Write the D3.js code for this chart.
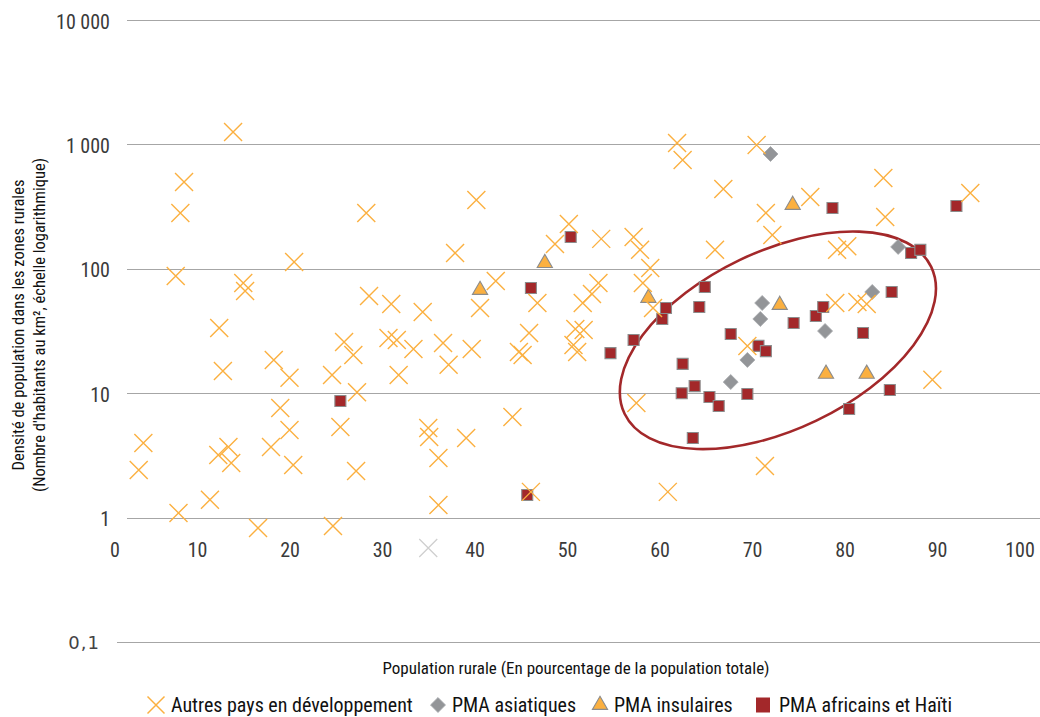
<!DOCTYPE html>
<html lang="fr">
<head>
<meta charset="utf-8">
<script src="https://cdn.jsdelivr.net/npm/d3@7/dist/d3.min.js"></script>
<style>
  html, body { margin: 0; padding: 0; background: #fff; }
  svg { display: block; }
  .cond { font-family: "Liberation Sans Narrow", "Arial Narrow", "Roboto Condensed", "DejaVu Sans Condensed", sans-serif; }
</style>
</head>
<body>
<svg id="chart" width="1040" height="717"></svg>
<script>
// Axis ticks
const xTicks = [0, 10, 20, 30, 40, 50, 60, 70, 80, 90, 100];
const yTicks = [0.1, 1, 10, 100, 1000, 10000];

// Series: [rural population (% of total), rural density (inhabitants per km²)]
const autresPays = [
  [3.7, 2.41], [4.2, 3.98], [8.0, 1.09], [7.7, 87.5], [8.2, 281], [8.6, 499],
  [11.4, 1.39], [12.3, 3.19], [12.4, 33.4], [12.8, 15.1], [13.4, 3.69], [13.7, 2.75],
  [13.9, 1258], [15.0, 76.9], [15.2, 66.3], [16.6, 0.825], [18.3, 18.5], [19.0, 7.6],
  [20.0, 13.3], [20.0, 5.06], [18.0, 3.69], [20.4, 2.65], [20.5, 113.5], [24.6, 14.0],
  [24.7, 0.856], [25.5, 5.35], [25.9, 25.8], [26.9, 20.3], [27.3, 10.2], [27.2, 2.37],
  [28.3, 281], [28.6, 60.4], [30.7, 27.8], [31.6, 26.8], [31.0, 52.1], [31.8, 14.0],
  [33.4, 22.7], [34.4, 44.9], [35.0, 5.25], [35.1, 4.44], [36.1, 3.01], [36.1, 1.26],
  [36.6, 25.3], [37.2, 16.9], [37.9, 134], [39.1, 4.36], [39.7, 22.7], [40.2, 357],
  [40.6, 48.4], [42.3, 79.8], [44.1, 6.44], [44.8, 21.4], [45.2, 20.3], [45.9, 30.5],
  [46.8, 53.1], [46.1, 1.61], [48.7, 158], [50.2, 229], [50.7, 24.4], [51.1, 21.4],
  [50.9, 32.8], [51.8, 32.2], [51.7, 53.1], [52.7, 62.7], [53.4, 76.9], [53.7, 174],
  [57.2, 180], [57.9, 142], [59.0, 101.5], [58.2, 76.9], [59.3, 48.4], [57.5, 8.34],
  [60.9, 1.61], [61.9, 1026], [62.5, 749], [66.9, 438], [66.0, 142], [70.5, 989],
  [71.5, 281], [72.2, 187], [76.3, 378], [84.2, 537], [84.4, 261], [93.6, 407],
  [79.2, 142], [80.3, 152], [79.0, 53.1], [81.4, 54.1], [82.4, 52.1], [89.5, 12.8],
  [69.5, 24.0], [71.4, 2.6]
];
const pmaAsiatiques = [
  [72.0, 837], [85.8, 150], [83.0, 65.1], [71.1, 53.1], [70.9, 39.5], [77.9, 31.6],
  [69.5, 18.5], [67.7, 12.3]
];
const pmaInsulaires = [
  [40.6, 67.5], [47.6, 111], [58.8, 58.3], [74.4, 326], [73.0, 51.2], [78.0, 14.3], [82.4, 14.3]
];
const pmaAfricains = [
  [25.5, 8.66], [45.7, 1.52], [46.1, 70.1], [50.4, 180], [54.7, 21.0], [57.2, 26.8],
  [60.7, 48.4], [60.3, 39.5], [62.5, 17.2], [62.4, 10.0], [63.8, 11.4], [63.6, 4.36],
  [64.3, 49.3], [64.9, 71.4], [65.4, 9.32], [66.4, 7.89], [67.7, 29.9], [69.5, 9.85],
  [70.7, 24.0], [71.5, 21.8], [74.5, 36.7], [76.9, 41.7], [77.7, 49.3], [78.7, 308],
  [80.5, 7.46], [82.0, 30.5], [84.9, 10.6], [85.1, 65.1], [87.2, 134], [88.2, 142],
  [92.1, 320]
];
// Faint stray cross sitting on the x-axis label row
const strayMarks = [[35.0, 0.57]];

// Highlighted cluster centre, in data units
const clusterCentre = [72.8, 26.6];

const legendItems = [
  { label: "Autres pays en développement", shape: "x" },
  { label: "PMA asiatiques", shape: "diamond" },
  { label: "PMA insulaires", shape: "triangle" },
  { label: "PMA africains et Haïti", shape: "square" }
];

const COL = {
  orange: "#FBB040",
  grey: "#939598",
  greyEdge: "#A7A9AC",
  red: "#A3282A",
  grid: "#A6A6A6",
  text: "#3a3a3a"
};

const svg = d3.select("#chart");
svg.append("rect").attr("width", 1040).attr("height", 717).attr("fill", "#fff");

const x = d3.scaleLinear().domain([0, 100]).range([104.5, 1029.5]);
const y = d3.scaleLog().domain([0.1, 10000]).range([642, 20]);

const fr = d3.formatLocale({ decimal: ",", thousands: " ", grouping: [3], currency: ["", ""] });
const fmtInt = fr.format(",");
const fmtDec = fr.format(",.1f");

// Gridlines
svg.append("g").selectAll("line").data(yTicks).join("line")
  .attr("x1", d => d === 0.1 ? 117 : 127)
  .attr("x2", 1040)
  .attr("y1", d => Math.round(y(d)) + 0.5)
  .attr("y2", d => Math.round(y(d)) + 0.5)
  .attr("stroke", COL.grid)
  .attr("stroke-width", 1.2);

// Y axis labels
const yAxis = svg.append("g")
  .attr("transform", "translate(110,0)")
  .call(d3.axisLeft(y).tickValues(yTicks.filter(d => d >= 1)).tickFormat(fmtInt).tickSize(0).tickPadding(0));
yAxis.select(".domain").remove();
yAxis.selectAll("text")
  .attr("class", "cond")
  .attr("font-size", 20)
  .attr("fill", COL.text)
  .attr("dy", "0.4em");

// The 0,1 label is set in a different face
const yAxisLow = svg.append("g")
  .attr("transform", "translate(100,0)")
  .call(d3.axisLeft(y).tickValues(yTicks.filter(d => d < 1)).tickFormat(fmtDec).tickSize(0).tickPadding(0));
yAxisLow.select(".domain").remove();
yAxisLow.selectAll("text")
  .attr("font-family", "'DejaVu Sans', Verdana, sans-serif")
  .attr("font-size", 18)
  .attr("letter-spacing", 1)
  .attr("fill", "#444")
  .attr("dy", "0.38em");

// X axis labels
const xAxis = svg.append("g")
  .attr("transform", "translate(0,543)")
  .call(d3.axisBottom(x).tickValues(xTicks).tickFormat(fmtInt).tickSize(0).tickPadding(0));
xAxis.select(".domain").remove();
xAxis.selectAll("text")
  .attr("class", "cond")
  .attr("font-size", 20)
  .attr("fill", COL.text)
  .attr("dx", d => d === 0 ? 10 : d === 100 ? -10 : 0);

// Marker paths
function crossPath(r) {
  return `M${-r},${-r}L${r},${r}M${-r},${r}L${r},${-r}`;
}
const symDiamond = d3.symbol().type(d3.symbolSquare).size(112)();
const symTriangle = d3.symbol().type(d3.symbolTriangle).size(100)();
const symSquare = d3.symbol().type(d3.symbolSquare).size(121)();

// Cluster ellipse
const [ecx, ecy] = [x(clusterCentre[0]), y(clusterCentre[1])];
svg.append("ellipse")
  .attr("transform", `translate(${ecx},${ecy}) rotate(-25.6)`)
  .attr("rx", 170).attr("ry", 89)
  .attr("fill", "none")
  .attr("stroke", COL.red)
  .attr("stroke-width", 2.6);

const plot = svg.append("g");

plot.append("g").selectAll("path").data(pmaAsiatiques).join("path")
  .attr("transform", d => `translate(${x(d[0])},${y(d[1])}) rotate(45)`)
  .attr("d", symDiamond)
  .attr("fill", COL.grey)
  .attr("stroke", COL.greyEdge)
  .attr("stroke-width", 0.8);

plot.append("g").selectAll("path").data(pmaInsulaires).join("path")
  .attr("transform", d => `translate(${x(d[0])},${y(d[1])})`)
  .attr("d", symTriangle)
  .attr("fill", COL.orange)
  .attr("stroke", "#8C8C8C")
  .attr("stroke-width", 1.1);

plot.append("g").selectAll("path").data(pmaAfricains).join("path")
  .attr("transform", d => `translate(${x(d[0])},${y(d[1])})`)
  .attr("d", symSquare)
  .attr("fill", COL.red)
  .attr("stroke", "#8C8C8C")
  .attr("stroke-width", 1.1);

plot.append("g").selectAll("path").data(autresPays).join("path")
  .attr("transform", d => `translate(${x(d[0])},${y(d[1])})`)
  .attr("d", crossPath(9))
  .attr("fill", "none")
  .attr("stroke", COL.orange)
  .attr("stroke-width", 1.4);

plot.append("g").selectAll("path").data(strayMarks).join("path")
  .attr("transform", d => `translate(${x(d[0])},${y(d[1])})`)
  .attr("d", crossPath(9))
  .attr("fill", "none")
  .attr("stroke", "#CFCFCF")
  .attr("stroke-width", 1.3);

// Axis titles
svg.append("text")
  .attr("class", "cond")
  .attr("x", 576).attr("y", 674)
  .attr("text-anchor", "middle")
  .attr("font-size", 17)
  .attr("fill", "#111")
  .text("Population rurale (En pourcentage de la population totale)");

const yTitle = [
  "Densité de population dans les zones rurales",
  "(Nombre d'habitants au km², échelle logarithmique)"
];
svg.append("g").selectAll("text").data(yTitle).join("text")
  .attr("class", "cond")
  .attr("transform", (d, i) => `translate(${i === 0 ? 24 : 45},325) rotate(-90)`)
  .attr("text-anchor", "middle")
  .attr("font-size", 16.5)
  .attr("fill", "#111")
  .text(d => d);

// Legend
const legendX = [156, 438, 600, 767];
const legend = svg.append("g").selectAll("g").data(legendItems).join("g")
  .attr("transform", (d, i) => `translate(${legendX[i]},705)`);
legend.each(function(d) {
  const g = d3.select(this);
  if (d.shape === "x") {
    g.append("path").attr("d", crossPath(8.5)).attr("fill", "none")
      .attr("stroke", COL.orange).attr("stroke-width", 1.5);
  } else if (d.shape === "diamond") {
    g.append("path").attr("d", symDiamond).attr("transform", "rotate(45)")
      .attr("fill", COL.grey).attr("stroke", COL.greyEdge).attr("stroke-width", 0.8);
  } else if (d.shape === "triangle") {
    g.append("path").attr("d", symTriangle)
      .attr("fill", COL.orange).attr("stroke", "#8C8C8C").attr("stroke-width", 1.1);
  } else {
    g.append("rect").attr("x", -11).attr("y", -7.5).attr("width", 14).attr("height", 15)
      .attr("fill", COL.red);
  }
});
legend.append("text")
  .attr("class", "cond")
  .attr("x", (d, i) => [15, 14, 14, 12][i])
  .attr("y", 7)
  .attr("font-size", 20)
  .attr("fill", "#111")
  .text(d => d.label);
</script>
</body>
</html>
